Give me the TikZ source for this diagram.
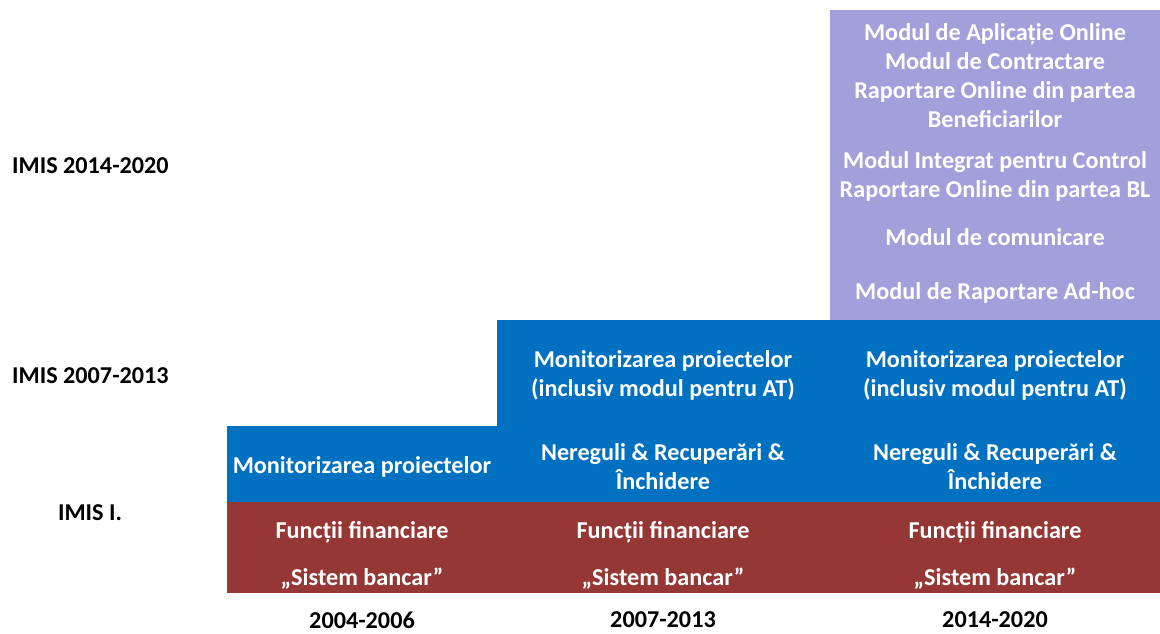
\documentclass[tikz,border=0pt]{standalone}
\usepackage{fontspec}
\setmainfont{Carlito}
\definecolor{lila}{RGB}{162,160,219}
\definecolor{albastru}{RGB}{0,112,192}
\definecolor{rosu}{RGB}{149,55,53}
\begin{document}
\begin{tikzpicture}
        [x=1pt, y=-1pt,
         every node/.style={font=\bfseries\fontsize{24.2}{29}\selectfont, align=center, inner sep=0pt},
         modul/.style={text=white}]

        \useasboundingbox (0,0) rectangle (1160,633);

        \fill[lila] (830,10) rectangle (1160,320);
        \fill[albastru] (497,320) rectangle (1160,502);
        \fill[albastru] (227,426) rectangle (497,502);
        \fill[rosu] (227,502) rectangle (1160,593);

        \foreach \x [count=\i] in {362, 663, 995}
        \node[modul] (fin-\i) at (\x, 532) {Funcții financiare};

        \foreach \x [count=\i] in {362, 663, 995}
        \node[modul] (banc-\i) at (\x, 579) {„Sistem bancar”};

        \foreach \x/\an [count=\i] in {362/2004-2006, 663/2007-2013, 995/2014-2020}
        \node (an-\i) at (\x, 620) {\an};

        \node[modul] (mon-1) at (362, 467) {Monitorizarea proiectelor};

        \foreach \x [count=\i from 2] in {663, 995}
        \node[modul] (mon-\i) at (\x, 375.5) {Monitorizarea proiectelor\\(inclusiv modul pentru AT)};

        \foreach \x [count=\i from 2] in {663, 995}
        \node[modul] (nereg-\i) at (\x, 466.5) {Nereguli \& Recuperări \&\\Închidere};

        \node[modul] (online) at (995, 75.5) {Modul de Aplicație Online\\Modul de Contractare\\Raportare Online din partea\\Beneficiarilor};
        \node[modul] (control) at (995, 176.5) {Modul Integrat pentru Control\\Raportare Online din partea BL};
        \node[modul] (comunic) at (995, 237) {Modul de comunicare};
        \node[modul] (adhoc) at (995, 293) {Modul de Raportare Ad-hoc};

        \node[anchor=west] (imis-3) at (12, 166) {IMIS 2014-2020};
        \node[anchor=west] (imis-2) at (12, 376) {IMIS 2007-2013};
        \node (imis-1) at (90, 513) {IMIS I.};

    \end{tikzpicture}
\end{document}
